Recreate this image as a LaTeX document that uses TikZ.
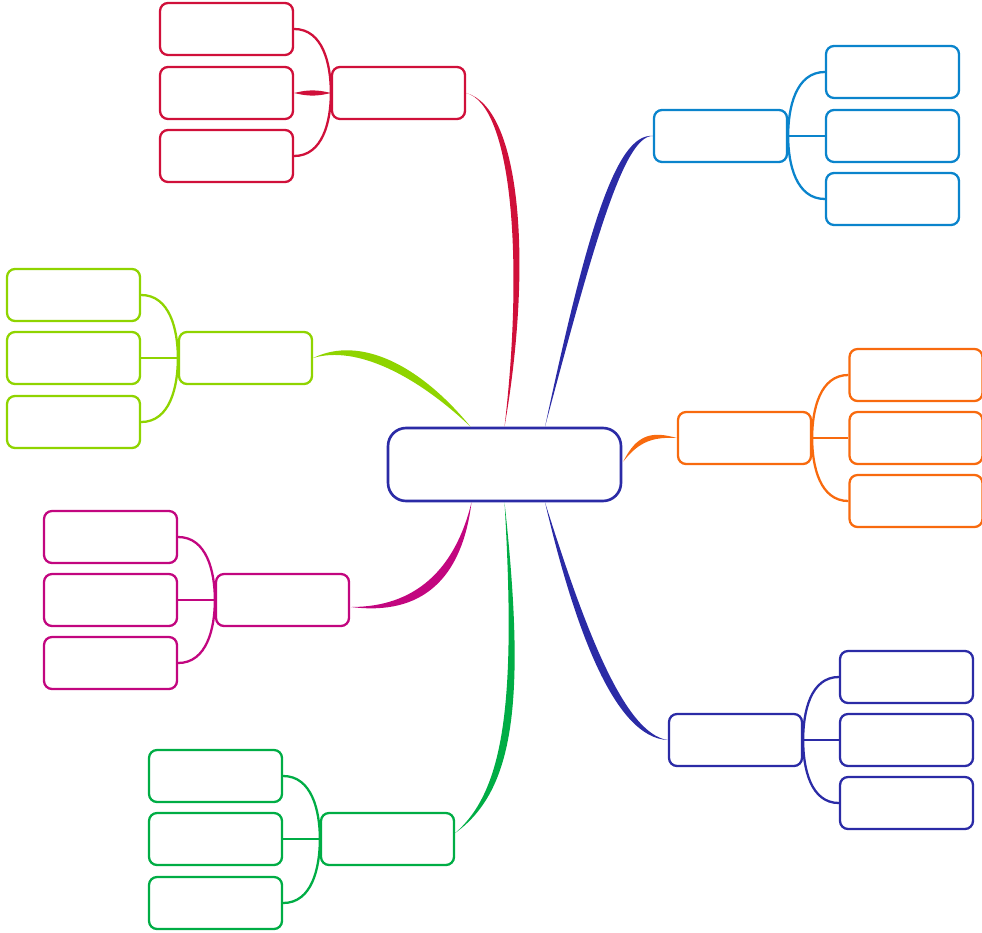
\documentclass[tikz,border=0pt]{standalone}
\definecolor{RootBlue}{HTML}{2B2BA6}
\definecolor{RedTone}{HTML}{D0103A}
\definecolor{SkyTone}{HTML}{0A84CC}
\definecolor{OrangeTone}{HTML}{F86A0E}
\definecolor{GreenTone}{HTML}{00AD45}
\definecolor{MagentaTone}{HTML}{C2067F}
\definecolor{LimeTone}{HTML}{8FD400}
\usetikzlibrary{calc}
\tikzset{
  corebox/.style={draw=RootBlue, line width=1.5pt, rounded corners=0.36cm, fill=white, minimum width=4.66cm, minimum height=1.46cm, inner sep=0pt},
  topicbox/.style={draw=#1, line width=1.3pt, rounded corners=0.16cm, fill=white, minimum width=2.66cm, minimum height=1.04cm, inner sep=0pt},
  twig/.style={draw=#1, line width=1.3pt}
}
% tapered branch: colour, start, control 1, control 2, end, thickness offset
\newcommand{\limb}[6]{\fill[#1] #2 .. controls #3 and #4 .. #5 .. controls ($#4+#6$) and ($#3+#6$) .. #2;}

\begin{document}
\begin{tikzpicture}[x=0.02cm, y=-0.02cm]
\useasboundingbox (0,0) rectangle (982,932);

\node[corebox] (root) at (504.5,464.5) {};

% main topics
\node[topicbox=RedTone] (rd) at (398.5,93) {};
\node[topicbox=SkyTone] (sk) at (720.5,136) {};
\node[topicbox=OrangeTone] (og) at (744.5,438) {};
\node[topicbox=RootBlue] (bl) at (735.5,740) {};
\node[topicbox=GreenTone] (gr) at (387.5,839) {};
\node[topicbox=MagentaTone] (mg) at (282.5,600) {};
\node[topicbox=LimeTone] (lm) at (245.5,358) {};

% sub topics
\foreach \i/\y in {1/29,2/93,3/156} \node[topicbox=RedTone] (rd\i) at (226.5,\y) {};
\foreach \i/\y in {1/72,2/136,3/199} \node[topicbox=SkyTone] (sk\i) at (892.5,\y) {};
\foreach \i/\y in {1/375,2/438,3/501} \node[topicbox=OrangeTone] (og\i) at (916,\y) {};
\foreach \i/\y in {1/677,2/740,3/803} \node[topicbox=RootBlue] (bl\i) at (906.5,\y) {};
\foreach \i/\y in {1/776,2/839,3/903} \node[topicbox=GreenTone] (gr\i) at (215.5,\y) {};
\foreach \i/\y in {1/537,2/600,3/663} \node[topicbox=MagentaTone] (mg\i) at (110.5,\y) {};
\foreach \i/\y in {1/295,2/358,3/422} \node[topicbox=LimeTone] (lm\i) at (73.5,\y) {};

% branches from the root
\limb{RedTone}{(root.north)}{(524,260)}{(512,105)}{(rd.east)}{(9,3)}
\limb{RootBlue}{($(root.north)+(40.5,0)$)}{(585,240)}{(615,132)}{(sk.west)}{(9,3)}
\limb{OrangeTone}{($(root.east)+(1,-3)$)}{(640,440)}{(655,437)}{(og.west)}{(-3,-6)}
\limb{RootBlue}{($(root.south)+(40.5,0)$)}{(575,630)}{(615,738)}{(bl.west)}{(9,-4)}
\limb{GreenTone}{(root.south)}{(516,700)}{(505,790)}{($(gr.east)+(0,-6)$)}{(10,0)}
\limb{MagentaTone}{($(root.south)+(-33,0)$)}{(455,570)}{(415,607)}{($(mg.east)+(1,7)$)}{(7,9)}
\limb{LimeTone}{($(root.north)+(-34,0)$)}{(420,365)}{(360,335)}{(lm.east)}{(-4,10)}

% red group
\draw[twig=RedTone] (rd.west) to[out=90,in=0] (rd1.east);
\draw[twig=RedTone] (rd.west) to[out=-90,in=0] (rd3.east);
\fill[RedTone] (rd2.east) to[bend left=14] (rd.west) to[bend left=14] (rd2.east);

% sky group
\draw[twig=SkyTone] (sk.east) to[out=90,in=180] (sk1.west);
\draw[twig=SkyTone] (sk.east) -- (sk2.west);
\draw[twig=SkyTone] (sk.east) to[out=-90,in=180] (sk3.west);

% orange group
\draw[twig=OrangeTone] (og.east) to[out=90,in=180] (og1.west);
\draw[twig=OrangeTone] (og.east) -- (og2.west);
\draw[twig=OrangeTone] (og.east) to[out=-90,in=180] (og3.west);

% blue group
\draw[twig=RootBlue] (bl.east) to[out=90,in=180] (bl1.west);
\draw[twig=RootBlue] (bl.east) -- (bl2.west);
\draw[twig=RootBlue] (bl.east) to[out=-90,in=180] (bl3.west);

% green group
\draw[twig=GreenTone] (gr.west) to[out=90,in=0] (gr1.east);
\draw[twig=GreenTone] (gr.west) -- (gr2.east);
\draw[twig=GreenTone] (gr.west) to[out=-90,in=0] (gr3.east);

% magenta group
\draw[twig=MagentaTone] (mg.west) to[out=90,in=0] (mg1.east);
\draw[twig=MagentaTone] (mg.west) -- (mg2.east);
\draw[twig=MagentaTone] (mg.west) to[out=-90,in=0] (mg3.east);

% lime group
\draw[twig=LimeTone] (lm.west) to[out=90,in=0] (lm1.east);
\draw[twig=LimeTone] (lm.west) -- (lm2.east);
\draw[twig=LimeTone] (lm.west) to[out=-90,in=0] (lm3.east);
\end{tikzpicture}
\end{document}
